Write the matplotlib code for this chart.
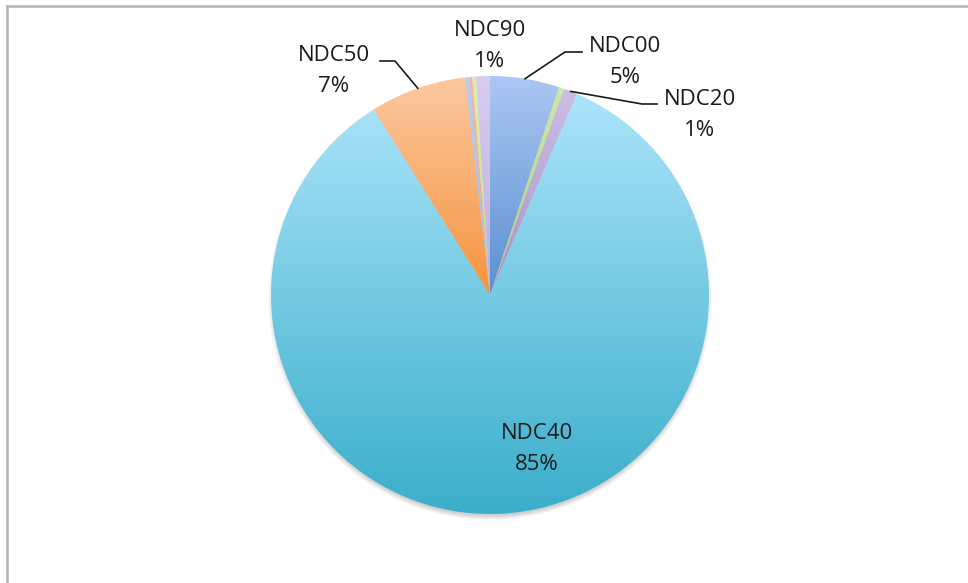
import numpy as np
import matplotlib
matplotlib.use("Agg")
from matplotlib import pyplot as plt
from matplotlib.colors import LinearSegmentedColormap
from matplotlib.patches import Circle
from matplotlib.lines import Line2D

# slice data (clockwise from 12 o'clock), values in percent
categories = ["NDC00", "NDC10", "NDC20", "NDC40", "NDC50", "NDC60", "NDC70", "NDC80", "NDC90"]
shares = [5.1, 0.4, 1.0, 84.6, 7.1, 0.3, 0.2, 0.3, 1.0]
show_label = [True, False, True, True, True, False, False, False, True]

# gradient colours, top -> bottom of each slice
top_colors = ["#abc7f3", "#cde8ab", "#cdbde4", "#abe4f9", "#fcc8a0", "#b8cff3", "#f6b6ae", "#dfeeaa", "#d8ccf0"]
bot_colors = ["#5a8fd0", "#a9d07f", "#a893c9", "#3aaecb", "#f6933d", "#9db8e6", "#ee9c92", "#c8dc86", "#bcaee0"]

W, H = 968, 583
CX, CY, R = 490, 295, 219

fig = plt.figure(figsize=(W / 100, H / 100), dpi=100)
ax = fig.add_axes([(CX - R) / W, (H - CY - R) / H, 2 * R / W, 2 * R / H])


def to_data(px, py):
    return (px - CX) / R, (CY - py) / R


# soft shadow under the pie
for i in range(8):
    ax.add_patch(Circle((0, -0.022 + i * 0.001), 0.985 + i * 0.004, facecolor="black",
                        edgecolor="none", alpha=0.022, zorder=0, clip_on=False))

wedges, _ = ax.pie(shares, startangle=90, counterclock=False, radius=1,
                   wedgeprops=dict(edgecolor="none", linewidth=0))

grad = np.linspace(0, 1, 256).reshape(-1, 1)
for w, c0, c1 in zip(wedges, top_colors, bot_colors):
    t = np.radians(np.linspace(w.theta1, w.theta2, 200))
    xs = np.concatenate([[0], np.cos(t)])
    ys = np.concatenate([[0], np.sin(t)])
    cmap = LinearSegmentedColormap.from_list("g", [c0, c1])
    im = ax.imshow(grad, cmap=cmap, aspect="auto", origin="upper",
                   extent=[xs.min(), xs.max(), ys.min(), ys.max()], zorder=2)
    im.set_clip_path(w)
    w.set_facecolor("none")

ax.set_xlim(-1, 1)
ax.set_ylim(-1, 1)
ax.set_aspect("equal")
ax.axis("off")

txt_kw = dict(ha="center", va="center", fontsize=16, family="Open Sans",
              color="#1a1a1a", linespacing=1.65, clip_on=False)

# label block centres and leader elbows, in pixels
label_pos = {"NDC00": (625, 62), "NDC20": (700, 115), "NDC40": (537, 449),
             "NDC50": (334, 71), "NDC90": (490, 46)}
leaders = {"NDC00": [(565, 52), (582, 52)],
           "NDC20": [(642, 104), (657, 104)],
           "NDC50": [(395, 61), (380, 61)]}

for w, name, val, show in zip(wedges, categories, shares, show_label):
    if not show:
        continue
    lx, ly = to_data(*label_pos[name])
    ax.text(lx, ly, f"{name}\n{val:.0f}%", **txt_kw)
    if name in leaders:
        mid = np.radians((w.theta1 + w.theta2) / 2)
        pts = [(np.cos(mid), np.sin(mid))] + [to_data(*p) for p in leaders[name]]
        ax.add_line(Line2D([p[0] for p in pts], [p[1] for p in pts], color="#1a1a1a",
                           linewidth=1.2, clip_on=False, zorder=3))

# chart frame (top and left edges visible)
fig.add_artist(Line2D([7 / W, 1], [1 - 6 / H, 1 - 6 / H], color="#b3b3b3", linewidth=1.8))
fig.add_artist(Line2D([7 / W, 7 / W], [0, 1 - 6 / H], color="#b3b3b3", linewidth=1.8))

fig.savefig("out.png", dpi=100)
